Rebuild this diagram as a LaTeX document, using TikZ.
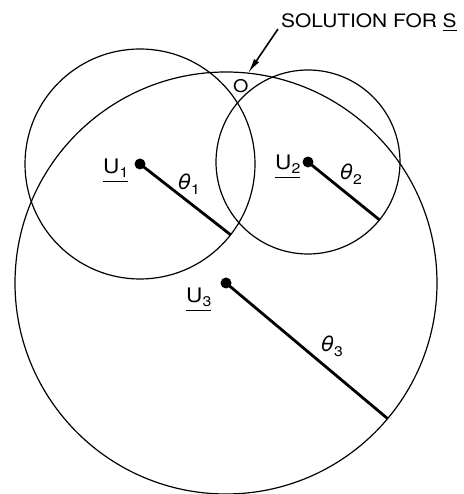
\documentclass[tikz,border=0pt]{standalone}
\usepackage{fontspec}
\usetikzlibrary{calc,arrows.meta}
\newfontfamily\lettering[FakeStretch=1.13]{TeX Gyre Heros}
\newcommand{\undl}[2][3pt]{\vtop{\hbox{#2}\kern#1\hrule height 1.2pt}}
\newcommand{\Ulabel}[1]{\undl{U\raisebox{-4pt}{\fontsize{14}{14}\selectfont#1}}}
\newcommand{\Thlabel}[1]{{\itshape θ}\raisebox{-5pt}{\fontsize{14}{14}\selectfont#1}}

\begin{document}
\begin{tikzpicture}[x=1pt,y=1pt,>={Latex[length=15pt,width=6pt]},
  ring/.style={line width=1.2pt},
  radial/.style={line width=2.8pt},
  spot/.style={circle,fill,inner sep=0pt,minimum size=11pt},
  lbl/.style={inner sep=0pt,anchor=base west,font=\lettering\fontsize{20}{20}\selectfont},
  thlbl/.style={lbl,font=\lettering\fontsize{21}{21}\selectfont}]
  \useasboundingbox (0,0) rectangle (463,494);
  % the three stations and their range circles
  \node[spot] (u1) at (140,330) {};
  \node[spot] (u2) at (308,332) {};
  \node[spot] (u3) at (226,211) {};
  \draw[ring] (u1.center) circle[radius=115];
  \draw[ring] (u2.center) circle[radius=92];
  \draw[ring] (u3.center) circle[radius=211];
  \coordinate (t1) at ($(u1.center)+(-38:115)$);
  \coordinate (t2) at ($(u2.center)+(-39:92)$);
  \coordinate (t3) at ($(u3.center)+(-40:211)$);
  \draw[radial] (u1.center) -- (t1);
  \draw[radial] (u2.center) -- (t2);
  \draw[radial] (u3.center) -- (t3);
  % labels
  \node[lbl] (l1) at (103,320) {\Ulabel{1}};
  \node[lbl] (l2) at (275,324) {\Ulabel{2}};
  \node[lbl] (l3) at (186,191) {\Ulabel{3}};
  \node[thlbl] (th1) at (177,304) {\Thlabel{1}};
  \node[thlbl] (th2) at (339,314) {\Thlabel{2}};
  \node[thlbl] (th3) at (320,142) {\Thlabel{3}};
  \node[lbl,font=\lettering\fontsize{17.5}{17.5}\selectfont] (o) at (233,401) {O};
  \node[lbl,font=\lettering\fontsize{18.5}{18.5}\selectfont] (sol) at (281,466) {SOLUTION FOR \undl[1.5pt]{S}};
  \coordinate (tail) at ([shift={(-3,-1)}]sol.base west);
  \coordinate (tip) at ($(u3.center)+(84:211)$);
  \draw[->,line width=1.6pt] (tail) -- (tip);
\end{tikzpicture}
\end{document}
